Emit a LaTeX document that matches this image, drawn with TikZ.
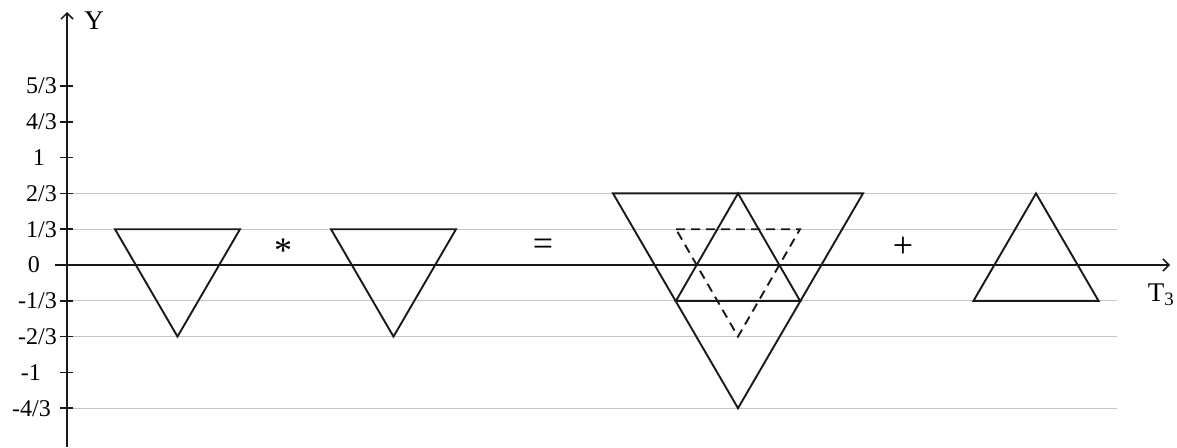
\documentclass[tikz,border=0pt]{standalone}
\usepackage{fontspec}
\setmainfont{Liberation Serif}
\usetikzlibrary{arrows.meta}
\begin{document}
\begin{tikzpicture}[x=1pt,y=-1pt,
  gridline/.style={draw=black!22,line width=1pt},
  axisline/.style={draw=black!90,line width=1.9pt},
  tickmark/.style={draw=black!90,line width=1.6pt},
  tri/.style={draw=black!90,line width=1.9pt,line join=miter},
  dashtri/.style={tri,dash pattern=on 9pt off 6pt},
  ticklabel/.style={anchor=east,inner sep=0pt,font=\fontsize{24}{27}\selectfont},
  axislabel/.style={inner sep=0pt,font=\fontsize{27}{30}\selectfont},
  opsign/.style={inner sep=0pt,font=\fontsize{36}{40}\selectfont},
  tip/.style={-{Straight Barb[length=6pt,width=12pt,line width=1.5pt]}}]
\useasboundingbox (0,0) rectangle (1177,447);
% grey grid lines
\foreach \v in {193.4,229.2,300.8,336.6,408.2}
  \draw[gridline] (73,\v) -- (1117,\v);
% axes
\coordinate (xs) at (55,265);
\coordinate (xe) at (1170,265);
\coordinate (ys) at (67,447);
\coordinate (ye) at (67,12);
\draw[axisline,tip] (xs) -- (xe);
\draw[axisline,tip] (ys) -- (ye);
\node[axislabel] (ylab) at (94,21) {Y};
\node[axislabel] (tlab) at (1161,295) {T\textsubscript{3}};
% ticks
\foreach \v in {86,121.8,157.6,193.4,229.2,300.8,336.6,372.4,408.2}
  \draw[tickmark] (60,\v) -- (73,\v);
\node[ticklabel] (l53) at (57,86) {5/3};
\node[ticklabel] (l43) at (57,121.8) {4/3};
\node[ticklabel] (l1) at (45,157.6) {1};
\node[ticklabel] (l23) at (57,193.4) {2/3};
\node[ticklabel] (l13) at (57,229.2) {1/3};
\node[ticklabel] (l0) at (40,265) {0};
\node[ticklabel] (lm13) at (57,300.8) {-1/3};
\node[ticklabel] (lm23) at (57,336.6) {-2/3};
\node[ticklabel] (lm1) at (41,372.4) {-1};
\node[ticklabel] (lm43) at (51,408.2) {-4/3};
% triangles
\draw[tri] (115,229.2) -- (240,229.2) -- (177.5,336.6) -- cycle;
\draw[tri] (331,229.2) -- (456,229.2) -- (393.5,336.6) -- cycle;
\draw[tri] (613,193.4) -- (863,193.4) -- (738,408.2) -- cycle;
\draw[tri] (738,193.4) -- (800,300.8) -- (676,300.8) -- cycle;
\draw[dashtri] (676,229.2) -- (800,229.2) -- (738,336.6) -- cycle;
\draw[tri] (1036,193.4) -- (1098.5,300.8) -- (973.5,300.8) -- cycle;
% operators
\node[opsign] (star) at (283,251) {*};
\node[opsign] (eq) at (543,247) {=};
\node[opsign] (plus) at (903,247) {+};
\end{tikzpicture}
\end{document}
